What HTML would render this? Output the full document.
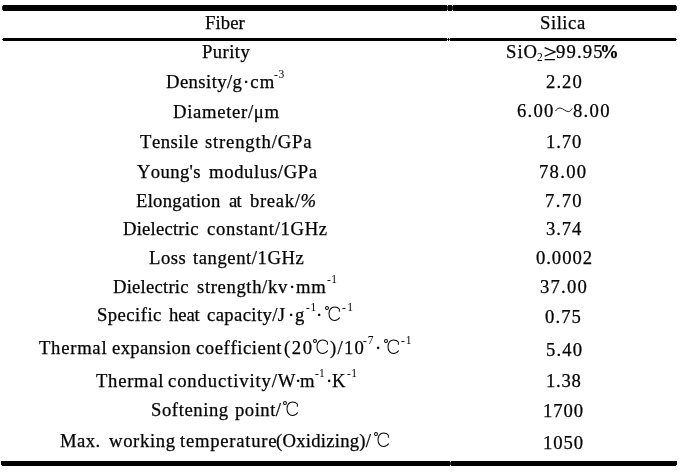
<!DOCTYPE html>
<html><head><meta charset="utf-8"><title>Silica fiber properties</title>
<style>
html,body{margin:0;padding:0;background:#fff;}
body{filter:grayscale(1);width:688px;height:472px;position:relative;overflow:hidden;font-family:"Liberation Serif",serif;color:#000;}
.r{position:absolute;white-space:nowrap;line-height:1.401px;height:0;font-size:18.67px;font-kerning:none;font-variant-ligatures:none;will-change:transform;-webkit-text-stroke:0.25px #000;}
.s{font-size:11.50px;line-height:0.240px;-webkit-text-stroke:0;}
.b{font-size:11.50px;line-height:0.240px;-webkit-text-stroke:0;}
.g{position:absolute;width:0;height:0;will-change:transform;}
.g svg{position:absolute;left:0;top:-16px;overflow:visible;fill:none;stroke:#000;stroke-width:1.05;}
.ln{position:absolute;background:#000;}
</style></head><body>

<div class="ln" style="left:2px;top:6px;width:675px;height:4px;background:#333"></div>
<div class="ln" style="left:3px;top:5px;width:444px;height:6px"></div>
<div class="ln" style="left:448px;top:5px;width:4px;height:6px"></div>
<div class="ln" style="left:453px;top:5px;width:223px;height:6px"></div>
<div class="ln" style="left:2px;top:39px;width:675px;height:1px;background:#333"></div>
<div class="ln" style="left:3px;top:38px;width:444px;height:3px"></div>
<div class="ln" style="left:448px;top:38px;width:1px;height:3px"></div>
<div class="ln" style="left:450px;top:38px;width:226px;height:3px"></div>
<div class="ln" style="left:450px;top:462px;width:1px;height:3px;background:#333"></div>
<div class="ln" style="left:1px;top:461px;width:449px;height:5px"></div>
<div class="ln" style="left:451px;top:461px;width:226px;height:5px"></div>
<div class="ln" style="left:1px;top:465px;width:1px;height:1px;background:#fff"></div>
<div class="ln" style="left:676px;top:465px;width:1px;height:1px;background:#fff"></div>
<div class="r" style="left:204.96px;top:22px;letter-spacing:0.098px;">Fiber</div>
<div class="r" style="left:202.26px;top:51px;letter-spacing:0.433px;">Purity</div>
<div class="r" style="left:166.26px;top:81px;letter-spacing:0.424px;">Density/g</div>
<div class="r" style="left:243.19px;top:81px;letter-spacing:1.086px;">·cm</div>
<div class="r s" style="left:274.47px;top:74px;letter-spacing:0.696px;">-3</div>
<div class="r" style="left:173.06px;top:111px;letter-spacing:0.685px;">Diameter/μm</div>
<div class="r" style="left:140.16px;top:141px;letter-spacing:0.505px;">Tensile</div>
<div class="r" style="left:204.73px;top:141px;letter-spacing:0.821px;">strength/GPa</div>
<div class="r" style="left:137.09px;top:171px;letter-spacing:0.355px;">Young's</div>
<div class="r" style="left:209.11px;top:171px;letter-spacing:0.649px;">modulus/GPa</div>
<div class="r" style="left:135.96px;top:200px;letter-spacing:0.266px;">Elongation</div>
<div class="r" style="left:228.84px;top:200px;letter-spacing:-0.708px;">at</div>
<div class="r" style="left:249.50px;top:200px;letter-spacing:0.644px;">break/<i>%</i></div>
<div class="r" style="left:123.06px;top:228px;letter-spacing:0.213px;">Dielectric</div>
<div class="r" style="left:207.29px;top:228px;letter-spacing:0.687px;">constant/1GHz</div>
<div class="r" style="left:149.46px;top:257px;letter-spacing:0.481px;">Loss</div>
<div class="r" style="left:192.82px;top:257px;letter-spacing:0.561px;">tangent/1GHz</div>
<div class="r" style="left:112.96px;top:286px;letter-spacing:0.224px;">Dielectric</div>
<div class="r" style="left:197.23px;top:286px;letter-spacing:0.626px;">strength/kv</div>
<div class="r" style="left:288.99px;top:286px;">·</div>
<div class="r" style="left:295.86px;top:286px;letter-spacing:0.689px;">mm</div>
<div class="r s" style="left:327.17px;top:279px;letter-spacing:0.438px;">-1</div>
<div class="r" style="left:97.45px;top:314px;letter-spacing:0.458px;">Specific</div>
<div class="r" style="left:169.32px;top:314px;letter-spacing:-0.101px;">heat</div>
<div class="r" style="left:207.29px;top:314px;letter-spacing:0.384px;">capacity/J</div>
<div class="r" style="left:287.89px;top:314px;">·</div>
<div class="r" style="left:295.11px;top:314px;">g</div>
<div class="r s" style="left:305.57px;top:307px;letter-spacing:0.738px;">-1</div>
<div class="r" style="left:316.49px;top:314px;">·</div>
<div class="g" style="left:324.50px;top:321px"><svg width="17" height="18" viewBox="0 -16 17 18"><g transform="scale(0.95,1)"><circle cx="2.1" cy="-13.05" r="1.55"/><path d="M15.1,-9.3V-12C13.9,-13.4 12.1,-14.1 10.1,-14.1C6.5,-14.1 4.2,-11.2 4.2,-7.3C4.2,-3.4 6.500,-0.5 10.1,-0.5C12.4,-0.5 14.3,-1.6 15.4,-3.4"/></g></svg></div>
<div class="r s" style="left:342.17px;top:307px;letter-spacing:1.538px;">-1</div>
<div class="r" style="left:39.26px;top:347px;letter-spacing:0.729px;">Thermal</div>
<div class="r" style="left:112.27px;top:347px;letter-spacing:0.351px;">expansion</div>
<div class="r" style="left:196.29px;top:347px;letter-spacing:0.571px;">coefficient</div>
<div class="r" style="left:284.18px;top:347px;letter-spacing:1.572px;">(20</div>
<div class="g" style="left:312.50px;top:354px"><svg width="17" height="18" viewBox="0 -16 17 18"><g transform="scale(0.95,1)"><circle cx="2.1" cy="-13.05" r="1.55"/><path d="M15.1,-9.3V-12C13.9,-13.4 12.1,-14.1 10.1,-14.1C6.5,-14.1 4.2,-11.2 4.2,-7.3C4.2,-3.4 6.500,-0.5 10.1,-0.5C12.4,-0.5 14.3,-1.6 15.4,-3.4"/></g></svg></div>
<div class="r" style="left:329.70px;top:347px;letter-spacing:1.246px;">)/10</div>
<div class="r s" style="left:362.97px;top:340px;letter-spacing:0.978px;">-7</div>
<div class="r" style="left:374.79px;top:347px;">·</div>
<div class="g" style="left:383.75px;top:354px"><svg width="17" height="18" viewBox="0 -16 17 18"><g transform="scale(0.95,1)"><circle cx="2.1" cy="-13.05" r="1.55"/><path d="M15.1,-9.3V-12C13.9,-13.4 12.1,-14.1 10.1,-14.1C6.5,-14.1 4.2,-11.2 4.2,-7.3C4.2,-3.4 6.500,-0.5 10.1,-0.5C12.4,-0.5 14.3,-1.6 15.4,-3.4"/></g></svg></div>
<div class="r s" style="left:400.77px;top:340px;letter-spacing:1.038px;">-1</div>
<div class="r" style="left:96.16px;top:380px;letter-spacing:0.712px;">Thermal</div>
<div class="r" style="left:168.49px;top:380px;letter-spacing:0.877px;">conductivity/W</div>
<div class="r" style="left:294.89px;top:380px;">·</div>
<div class="r" style="left:300.39px;top:380px;">m</div>
<div class="r s" style="left:315.37px;top:373px;letter-spacing:0.138px;">-1</div>
<div class="r" style="left:325.89px;top:380px;">·</div>
<div class="r" style="left:332.46px;top:380px;">K</div>
<div class="r s" style="left:346.97px;top:373px;letter-spacing:0.338px;">-1</div>
<div class="r" style="left:151.35px;top:409px;letter-spacing:0.575px;">Softening</div>
<div class="r" style="left:235.20px;top:409px;letter-spacing:0.497px;">point/</div>
<div class="g" style="left:282.80px;top:416px"><svg width="17" height="18" viewBox="0 -16 17 18"><g transform="scale(0.95,1)"><circle cx="2.1" cy="-13.05" r="1.55"/><path d="M15.1,-9.3V-12C13.9,-13.4 12.1,-14.1 10.1,-14.1C6.5,-14.1 4.2,-11.2 4.2,-7.3C4.2,-3.4 6.500,-0.5 10.1,-0.5C12.4,-0.5 14.3,-1.6 15.4,-3.4"/></g></svg></div>
<div class="r" style="left:60.06px;top:440px;letter-spacing:0.460px;">Max.</div>
<div class="r" style="left:108.88px;top:440px;letter-spacing:0.658px;">working</div>
<div class="r" style="left:180.22px;top:440px;letter-spacing:0.753px;">temperature</div>
<div class="r" style="left:276.18px;top:440px;letter-spacing:0.253px;">(Oxidizing)/</div>
<div class="g" style="left:373.75px;top:447px"><svg width="17" height="18" viewBox="0 -16 17 18"><g transform="scale(0.95,1)"><circle cx="2.1" cy="-13.05" r="1.55"/><path d="M15.1,-9.3V-12C13.9,-13.4 12.1,-14.1 10.1,-14.1C6.5,-14.1 4.2,-11.2 4.2,-7.3C4.2,-3.4 6.500,-0.5 10.1,-0.5C12.4,-0.5 14.3,-1.6 15.4,-3.4"/></g></svg></div>
<div class="r" style="left:540.05px;top:22px;letter-spacing:0.537px;">Silica</div>
<div class="r" style="left:506.35px;top:51px;letter-spacing:1.031px;">SiO</div>
<div class="r b" style="left:537.09px;top:57px;">2</div>
<div class="g" style="left:543.70px;top:58px"><svg width="13" height="18" viewBox="0 -16 13 18"><path d="M0.6,-10.4L11.1,-6.1L0.6,-1.8M0.6,1.7H11.1" stroke-width="1.2"/></svg></div>
<div class="r" style="left:556.40px;top:51px;letter-spacing:1.131px;">99.95</div>
<div class="r" style="left:600.38px;top:51px;"><b>%</b></div>
<div class="r" style="left:545.88px;top:81px;letter-spacing:1.053px;">2.20</div>
<div class="r" style="left:517.10px;top:110px;letter-spacing:1.247px;">6.00</div>
<div class="g" style="left:554.60px;top:117px"><svg width="20" height="18" viewBox="0 -16 20 18"><path stroke-width="0.9" d="M0.5,-6C2,-8.3 3.5,-9.1 5.3,-9C8,-8.8 10.5,-5.4 13.3,-5.4C15,-5.4 16.3,-6.8 17.2,-8.6"/></svg></div>
<div class="r" style="left:573.19px;top:110px;letter-spacing:1.283px;">8.00</div>
<div class="r" style="left:546.26px;top:141px;letter-spacing:0.926px;">1.70</div>
<div class="r" style="left:539.27px;top:171px;letter-spacing:1.284px;">78.00</div>
<div class="r" style="left:545.07px;top:200px;letter-spacing:1.323px;">7.70</div>
<div class="r" style="left:545.91px;top:228px;letter-spacing:0.904px;">3.74</div>
<div class="r" style="left:535.69px;top:257px;letter-spacing:0.940px;">0.0002</div>
<div class="r" style="left:539.61px;top:286px;letter-spacing:1.199px;">37.00</div>
<div class="r" style="left:545.19px;top:316px;letter-spacing:1.089px;">0.75</div>
<div class="r" style="left:545.72px;top:349px;letter-spacing:1.108px;">5.40</div>
<div class="r" style="left:546.26px;top:380px;letter-spacing:0.726px;">1.38</div>
<div class="r" style="left:543.36px;top:410px;letter-spacing:0.937px;">1700</div>
<div class="r" style="left:543.36px;top:442px;letter-spacing:0.937px;">1050</div>
</body></html>
